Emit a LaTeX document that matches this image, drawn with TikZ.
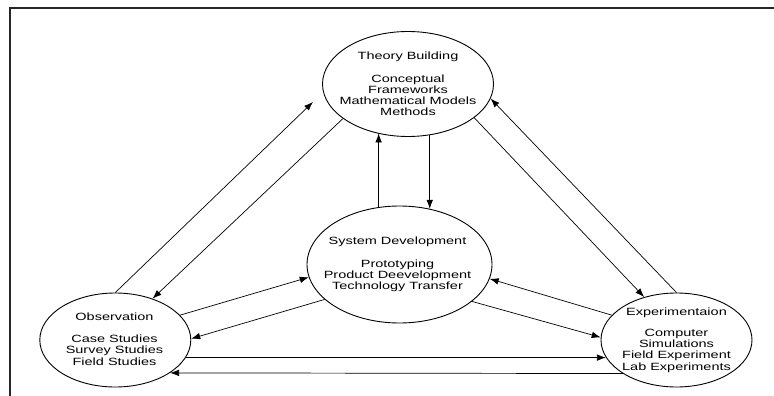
\documentclass[tikz,border=0pt]{standalone}
\usepackage{fontspec}
\setmainfont{Liberation Sans}[FakeStretch=1.38]
\usetikzlibrary{%
  arrows.meta,%
  shapes.geometric% wg. ellipse
}

\begin{document}
\begin{tikzpicture}[
  x=1pt,y=1pt,
  font=\fontsize{10.5}{11.2}\selectfont,
  >={Latex[length=9pt,width=6.5pt]},
  line width=0.7pt,
  area/.style={draw,ellipse,line width=0.9pt,inner sep=0pt},
  txt/.style={align=center,inner sep=0pt},
]
\useasboundingbox (0,0) rectangle (774,-396);
\draw[line width=1.2pt,black!85] (10,-396) -- (10,-8) -- (774,-8);

% the four areas
\node[area,minimum width=171,minimum height=105] (thb) at (408,-84) {};
\node[area,minimum width=185,minimum height=117] (sysdev) at (399.5,-264.5) {};
\node[area,minimum width=151,minimum height=94] (obs) at (115.3,-340) {};
\node[area,minimum width=151,minimum height=94] (exper) at (676.5,-340) {};

\node[txt] (thbt) at (thb) {Theory Building\\[11.2pt]Conceptual\\Frameworks\\Mathematical Models\\Methods};
\node[txt] (sysdevt) at (397.5,-264.5) {System Development\\[11.2pt]Prototyping\\Product Deevelopment\\Technology Transfer};
\node[txt] (obst) at (114.5,-339) {Observation\\[11.2pt]Case Studies\\Survey Studies\\Field Studies};
\node[txt] (expert) at (exper) {Experimentaion\\[10pt]Computer\\Simulations\\Field Experiment\\Lab Experiments};

% arrows
\draw[->] (obs.90) -- ([shift={(-13,-2)}]thb.191);
\draw[->] (thb.208) -- (obs.48);
\draw[->] (sysdev.110) -- (sysdev.110 |- thb.238);
\draw[->] (thb.293) -- (thb.293 |- sysdev.61);
\draw[->] (thb.333) -- (exper.127);
\draw[->] (exper.90) -- (thb.350);
\draw[->] (obs.21) -- (sysdev.188);
\draw[->] (sysdev.205) -- (obs.1);
\draw[->] (sysdev.333) -- (exper.178);
\draw[->] (exper.159) -- (sysdev.351);
\draw[->] (obs.346) -- (obs.346 -| exper.194);
\draw[->] (exper.212) -- (obs.329);
\end{tikzpicture}
\end{document}
